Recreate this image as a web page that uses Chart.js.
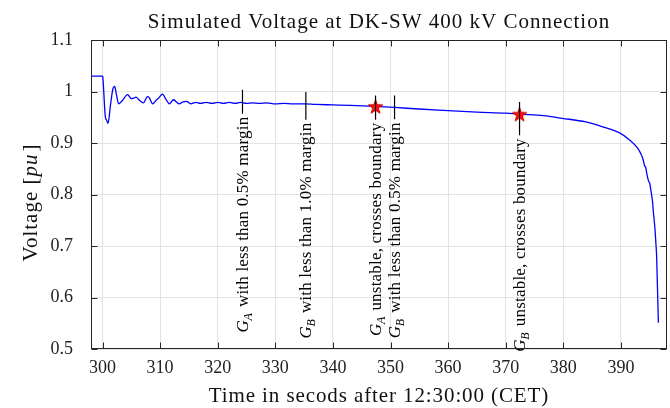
<!DOCTYPE html>
<html>
<head>
<meta charset="utf-8">
<script src="https://cdn.jsdelivr.net/npm/chart.js@4.4.1/dist/chart.umd.min.js"></script>
<style>
html,body{margin:0;padding:0;background:#fff;}
#wrap{width:670px;height:408px;}
</style>
</head>
<body>
<div id="wrap"><canvas id="c" width="670" height="408"></canvas></div>
<script>
// ---------------- data ----------------
const chartTitle = 'Simulated Voltage at DK-SW 400 kV Connection';
const xTitle = 'Time in secods after 12:30:00 (CET)';
const yTitleParts = ['Voltage [', 'pu', ']'];

const xTicks = [300, 310, 320, 330, 340, 350, 360, 370, 380, 390];
const yTicks = [0.5, 0.6, 0.7, 0.8, 0.9, 1.0, 1.1];

const timeS = [298, 300.0, 300.05, 300.5, 300.7, 300.95, 301.4, 301.8, 302.1, 302.4, 302.8, 303.4, 304.35, 305.0, 305.4, 305.8, 306.4, 307.1, 307.8, 308.1, 308.7, 309.3, 309.8, 310.4, 311.0, 311.6, 312.3, 313.3, 314.0, 314.6, 315.3, 316.2, 317.0, 318.0, 319.0, 320.0, 321.0, 322.0, 323.0, 324.0, 325.0, 326.0, 327.2, 328.5, 330.0, 331.5, 333, 335, 337, 340, 343, 347.4, 350.7, 355, 360, 365, 370, 372.4, 376.6, 379.8, 383.9, 386.7, 389.7, 391.5, 392.9, 393.5, 393.9, 394.1, 394.3, 394.5, 394.8, 395.0, 395.2, 395.5, 395.6, 395.9, 396.1, 396.2, 396.5];
const voltagePu = [1.030, 1.030, 1.028, 0.950, 0.945, 0.938, 0.975, 1.005, 1.010, 0.995, 0.976, 0.982, 0.994, 0.986, 0.987, 0.989, 0.983, 0.978, 0.990, 0.988, 0.976, 0.983, 0.988, 0.995, 0.985, 0.976, 0.984, 0.976, 0.980, 0.981, 0.976, 0.979, 0.977, 0.979, 0.977, 0.979, 0.977, 0.979, 0.977, 0.979, 0.977, 0.978, 0.977, 0.978, 0.976, 0.977, 0.976, 0.976, 0.975, 0.974, 0.973, 0.971, 0.969, 0.966, 0.963, 0.960, 0.958, 0.956, 0.953, 0.948, 0.941, 0.932, 0.920, 0.906, 0.890, 0.878, 0.866, 0.856, 0.853, 0.840, 0.826, 0.822, 0.808, 0.785, 0.770, 0.735, 0.700, 0.680, 0.551];

// event markers
const eventTime = [324.3, 335.3, 347.4, 350.7, 372.4];
const eventTop = [1.0035, 0.999, 0.9924, 0.9924, 0.9795];
const eventBottom = [0.957, 0.9453, 0.9453, 0.946, 0.915];
const eventGen = ['A', 'B', 'A', 'B', 'B'];
const eventText = [' with less than 0.5% margin', ' with less than 1.0% margin', ' unstable, crosses boundary', ' with less than 0.5% margin', ' unstable, crosses boundary'];

// unstable points (stars)
const starTime = [347.4, 372.4];
const starVolt = [0.971, 0.956];

// ---------------- build ----------------
const SERIF = '"Liberation Serif", "Times New Roman", serif';

const curve = timeS.map((t, i) => ({x: t, y: voltagePu[i]}));
const segs = [];
eventTime.forEach((t, i) => {
  segs.push({x: t, y: eventTop[i]});
  segs.push({x: t, y: eventBottom[i]});
  segs.push({x: t, y: null});
});
const stars = starTime.map((t, i) => ({x: t, y: starVolt[i]}));

function makeStar(r) {
  const s = Math.ceil(2 * r + 4);
  const c = document.createElement('canvas');
  c.width = s; c.height = s;
  const g = c.getContext('2d');
  g.translate(s / 2, s / 2 + r * 0.1);
  g.beginPath();
  for (let k = 0; k < 10; k++) {
    const rr = k % 2 === 0 ? r : r * 0.4;
    const a = -Math.PI / 2 + k * Math.PI / 5;
    const px = rr * Math.cos(a), py = rr * Math.sin(a);
    if (k === 0) g.moveTo(px, py); else g.lineTo(px, py);
  }
  g.closePath();
  g.fillStyle = '#ff1010';
  g.fill();
  g.lineWidth = 1;
  g.strokeStyle = '#d00000';
  g.stroke();
  return c;
}
const starImg = makeStar(7.5);

function spaced(ctx, sp) { if ('letterSpacing' in ctx) ctx.letterSpacing = sp; }

const decorPlugin = {
  id: 'decor',
  afterDatasetsDraw(chart) {
    const ctx = chart.ctx;
    const xs = chart.scales.x, ys = chart.scales.y;
    ctx.save();
    eventTime.forEach((t, i) => {
      const px = xs.getPixelForValue(t);
      const py = ys.getPixelForValue(eventBottom[i]) + 3;
      ctx.save();
      ctx.translate(px, py);
      ctx.rotate(-Math.PI / 2);
      ctx.fillStyle = '#000';
      ctx.textBaseline = 'alphabetic';
      ctx.textAlign = 'left';
      spaced(ctx, '0.2px');
      const fMain = '17px ' + SERIF;
      const fG = 'italic 17px ' + SERIF;
      const fSub = 'italic 12px ' + SERIF;
      ctx.font = fG; const wG = ctx.measureText('G').width;
      ctx.font = fSub; const wS = ctx.measureText(eventGen[i]).width;
      ctx.font = fMain; const wT = ctx.measureText(eventText[i]).width;
      const total = wG + wS + 1 + wT;
      let x0 = -total;
      const base = 5.5;
      ctx.font = fG; ctx.fillText('G', x0, base); x0 += wG;
      ctx.font = fSub; ctx.fillText(eventGen[i], x0 - 0.5, base + 4); x0 += wS + 1;
      ctx.font = fMain; ctx.fillText(eventText[i], x0, base);
      ctx.restore();
    });
    ctx.restore();
  },
  afterDraw(chart) {
    const ctx = chart.ctx;
    const a = chart.chartArea;
    const xs = chart.scales.x, ys = chart.scales.y;
    ctx.save();
    ctx.strokeStyle = '#262626';
    ctx.lineWidth = 1;
    const L = Math.round(a.left) + 0.5, R = Math.round(a.right) - 0.5;
    const T = Math.round(a.top) + 0.5, B = Math.round(a.bottom) - 0.5;
    ctx.strokeRect(L, T, R - L, B - T);
    const tl = 6;
    ctx.beginPath();
    xTicks.forEach(v => {
      const px = Math.round(xs.getPixelForValue(v)) + 0.5;
      ctx.moveTo(px, B); ctx.lineTo(px, B - tl);
      ctx.moveTo(px, T); ctx.lineTo(px, T + tl);
    });
    yTicks.forEach(v => {
      const py = Math.round(ys.getPixelForValue(v)) + 0.5;
      ctx.moveTo(L, py); ctx.lineTo(L + tl, py);
      ctx.moveTo(R, py); ctx.lineTo(R - tl, py);
    });
    ctx.stroke();
    const cx = (a.left + a.right) / 2;
    ctx.fillStyle = '#111';
    ctx.textAlign = 'center';
    ctx.textBaseline = 'alphabetic';
    ctx.font = '21px ' + SERIF;
    spaced(ctx, '1px');
    ctx.fillText(chartTitle, cx, 28);
    spaced(ctx, '0.9px');
    ctx.fillText(xTitle, cx, 402);
    ctx.save();
    ctx.translate(31, (a.top + a.bottom) / 2 + 8);
    ctx.rotate(-Math.PI / 2);
    ctx.textAlign = 'left';
    ctx.textBaseline = 'middle';
    spaced(ctx, '1px');
    const fR = '21px ' + SERIF, fI = 'italic 21px ' + SERIF;
    ctx.font = fR; const w1 = ctx.measureText(yTitleParts[0]).width;
    ctx.font = fI; const w2 = ctx.measureText(yTitleParts[1]).width;
    ctx.font = fR; const w3 = ctx.measureText(yTitleParts[2]).width;
    let x0 = -(w1 + w2 + w3 + 2) / 2;
    ctx.font = fR; ctx.fillText(yTitleParts[0], x0, 0); x0 += w1;
    ctx.font = fI; ctx.fillText(yTitleParts[1], x0, 0); x0 += w2 + 2;
    ctx.font = fR; ctx.fillText(yTitleParts[2], x0, 0);
    ctx.restore();
    ctx.restore();
  }
};

new Chart(document.getElementById('c'), {
  type: 'line',
  data: {
    datasets: [
      {
        label: 'Voltage',
        data: curve,
        borderColor: '#0000ff',
        borderWidth: 1.3,
        pointRadius: 0,
        cubicInterpolationMode: 'monotone',
        fill: false,
        order: 3
      },
      {
        label: 'Unstable',
        data: stars,
        showLine: false,
        pointStyle: starImg,
        pointRadius: 8,
        order: 2
      },
      {
        label: 'Events',
        data: segs,
        borderColor: '#000',
        borderWidth: 1.2,
        pointRadius: 0,
        spanGaps: false,
        tension: 0,
        fill: false,
        order: 1
      }
    ]
  },
  options: {
    responsive: false,
    animation: false,
    devicePixelRatio: 1,
    layout: {autoPadding: false, padding: {top: 40, right: 3, left: 0, bottom: 0}},
    plugins: {legend: {display: false}, title: {display: false}, tooltip: {enabled: false}},
    scales: {
      x: {
        type: 'linear',
        min: 298,
        max: 398,
        afterBuildTicks: s => { s.ticks = xTicks.map(v => ({value: v})); },
        afterFit: s => { s.height = 59; s.paddingLeft = 0; s.paddingRight = 0; },
        grid: {color: '#e3e3e3', lineWidth: 1, drawTicks: false},
        border: {display: false},
        ticks: {
          padding: 8,
          color: '#222',
          font: {family: SERIF, size: 18},
          maxRotation: 0,
          callback: v => String(v)
        }
      },
      y: {
        type: 'linear',
        min: 0.5,
        max: 1.1,
        afterBuildTicks: s => { s.ticks = yTicks.map(v => ({value: v})); },
        afterFit: s => { s.width = 91; s.paddingTop = 0; s.paddingBottom = 0; },
        grid: {color: '#e3e3e3', lineWidth: 1, drawTicks: false},
        border: {display: false},
        ticks: {
          padding: 18,
          color: '#222',
          font: {family: SERIF, size: 18},
          callback: v => String(Number(v.toFixed(1)))
        }
      }
    }
  },
  plugins: [decorPlugin]
});
</script>
</body>
</html>
